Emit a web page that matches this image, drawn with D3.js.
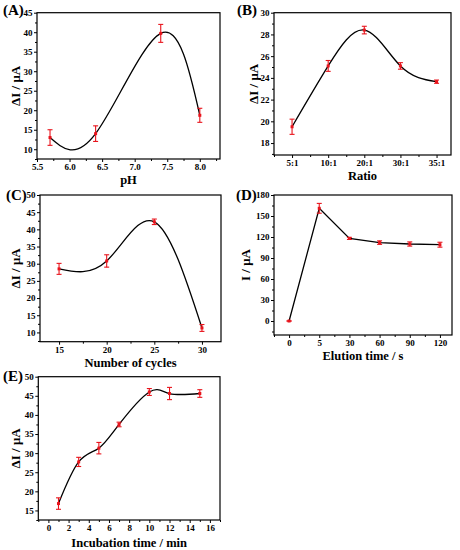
<!DOCTYPE html>
<html>
<head>
<meta charset="utf-8">
<script src="https://cdn.jsdelivr.net/npm/d3@7/dist/d3.min.js"></script>
<style>
  body { margin: 0; background: #fff; }
  svg { display: block; font-family: "Liberation Serif", "Times New Roman", serif; font-weight: bold; }
</style>
</head>
<body>
<div id="chart-area"></div>
<script>
//======================DATA======================
// (A) pH
var phX = [5.7, 6.4, 7.4, 8.0];
var phY = [13.0, 14.0, 39.7, 18.7];
var phErr = [2.0, 2.0, 2.3, 1.8];
var phTicks = [5.5, 6.0, 6.5, 7.0, 7.5, 8.0];
var phYTicks = [10, 15, 20, 25, 30, 35, 40, 45];

// (B) ratio
var ratioCats = ["5:1", "10:1", "20:1", "30:1", "35:1"];
var ratioY = [19.5, 25.1, 28.4, 25.1, 23.65];
var ratioErr = [0.7, 0.5, 0.35, 0.3, 0.15];
var ratioYTicks = [18, 20, 22, 24, 26, 28, 30];

// (C) cycles
var cycX = [15, 20, 25, 30];
var cycY = [28.5, 30.8, 42.2, 11.3];
var cycErr = [1.6, 1.8, 0.8, 1.0];
var cycTicks = [15, 20, 25, 30];
var cycYTicks = [10, 15, 20, 25, 30, 35, 40, 45, 50];

// (D) elution time
var eluCats = ["0", "5", "30", "60", "90", "120"];
var eluY = [0, 161, 118, 112, 110, 109];
var eluErr = [0, 7, 1.5, 2.5, 3, 3.5];
var eluYTicks = [0, 30, 60, 90, 120, 150, 180];

// (E) incubation time
var incX = [1, 3, 5, 7, 10, 12, 15];
var incY = [16.8, 27.7, 31.3, 37.5, 46.0, 45.6, 45.6];
var incErr = [1.5, 1.2, 1.5, 0.6, 0.9, 1.6, 1.0];
var incTicks = [0, 2, 4, 6, 8, 10, 12, 14, 16];
var incYTicks = [15, 20, 25, 30, 35, 40, 45, 50];

//======================SVG======================
var svg = d3.select("#chart-area").append("svg")
    .attr("width", 460)
    .attr("height", 550);

// midpoints between major ticks (plus one beyond each end if inside the domain)
function minors(ticks, domain) {
    var step = ticks[1] - ticks[0], out = [];
    for (var i = -1; i < ticks.length; i++) {
        var v = ticks[0] + (i + 0.5) * step;
        if (v >= d3.min(domain) && v <= d3.max(domain)) out.push(v);
    }
    return out;
}

// draws one panel
function panel(o) {
    var x = d3.scaleLinear().domain(o.xDomain).range([o.left, o.right]);
    var y = d3.scaleLinear().domain(o.yDomain).range([o.bottom, o.top]);
    var g = svg.append("g");

    // minor ticks
    g.append("g").attr("transform", "translate(0," + o.bottom + ")")
        .call(d3.axisBottom(x).tickValues(minors(o.xTicks, o.xDomain)).tickSize(2).tickFormat(""));
    g.append("g").attr("transform", "translate(" + o.left + ",0)")
        .call(d3.axisLeft(y).tickValues(minors(o.yTicks, o.yDomain)).tickSize(2).tickFormat(""));

    // x axis
    var xa = d3.axisBottom(x).tickValues(o.xTicks).tickSize(3).tickPadding(1.5)
        .tickFormat(o.xFormat);
    g.append("g").attr("transform", "translate(0," + o.bottom + ")").call(xa);
    // y axis
    var ya = d3.axisLeft(y).tickValues(o.yTicks).tickSize(3).tickPadding(1.5)
        .tickFormat(o.yFormat || d3.format("d"));
    g.append("g").attr("transform", "translate(" + o.left + ",0)").call(ya);

    g.selectAll(".domain").remove();
    g.selectAll(".tick line").attr("stroke", "#000").attr("stroke-width", 1);
    g.selectAll(".tick text").attr("font-size", "9px").attr("font-weight", "bold")
        .attr("font-family", "Liberation Serif, serif").attr("fill", "#000");

    // frame
    g.append("rect")
        .attr("x", o.left).attr("y", o.top)
        .attr("width", o.right - o.left).attr("height", o.bottom - o.top)
        .attr("fill", "none").attr("stroke", "#000").attr("stroke-width", 1.2);

    var pts = o.xs.map(function(d, i) { return { x: d, y: o.ys[i], e: o.errs[i] }; });

    // line
    g.append("path")
        .datum(pts)
        .attr("fill", "none")
        .attr("stroke", "#000")
        .attr("stroke-width", 1.3)
        .attr("d", d3.line()
            .x(function(d) { return x(d.x); })
            .y(function(d) { return y(d.y); })
            .curve(o.curve));

    // error bars
    var eb = g.selectAll(".eb").data(pts).enter().append("g").attr("stroke", "#e8141c").attr("stroke-width", 1.1);
    eb.append("line")
        .attr("x1", function(d) { return x(d.x); }).attr("x2", function(d) { return x(d.x); })
        .attr("y1", function(d) { return y(d.y - d.e); }).attr("y2", function(d) { return y(d.y + d.e); });
    eb.append("line")
        .attr("x1", function(d) { return x(d.x) - 2.5; }).attr("x2", function(d) { return x(d.x) + 2.5; })
        .attr("y1", function(d) { return y(d.y + d.e); }).attr("y2", function(d) { return y(d.y + d.e); });
    eb.append("line")
        .attr("x1", function(d) { return x(d.x) - 2.5; }).attr("x2", function(d) { return x(d.x) + 2.5; })
        .attr("y1", function(d) { return y(d.y - d.e); }).attr("y2", function(d) { return y(d.y - d.e); });
    // points
    g.selectAll(".pt").data(pts).enter().append("rect")
        .attr("x", function(d) { return x(d.x) - 1.5; })
        .attr("y", function(d) { return y(d.y) - 1.5; })
        .attr("width", 3).attr("height", 3)
        .attr("fill", "#e8141c");

    // axis titles
    g.append("text")
        .attr("x", (o.left + o.right) / 2)
        .attr("y", o.xTitleY)
        .attr("text-anchor", "middle")
        .attr("font-size", "12.5px")
        .text(o.xTitle);
    g.append("text")
        .attr("transform", "translate(" + o.yTitleX + "," + (o.top + o.bottom) / 2 + ") rotate(-90)")
        .attr("text-anchor", "middle")
        .attr("dy", "0.35em")
        .attr("font-size", "13px")
        .text(o.yTitle);

    // panel label
    g.append("text")
        .attr("x", o.labelX).attr("y", o.labelY)
        .attr("font-size", "15px")
        .text(o.label);
}

panel({
    left: 37, right: 220, top: 12.7, bottom: 159,
    xDomain: [5.5, 8.31], yDomain: [7.5, 45],
    xTicks: phTicks, yTicks: phYTicks, xFormat: d3.format(".1f"),
    xs: phX, ys: phY, errs: phErr, curve: d3.curveNatural,
    xTitle: "pH", xTitleY: 184, yTitle: "ΔI / μA", yTitleX: 15,
    label: "(A)", labelX: 3, labelY: 15
});

panel({
    left: 274, right: 451, top: 12.7, bottom: 155,
    xDomain: [0.5, 5.4], yDomain: [16.9, 30],
    xTicks: [1, 2, 3, 4, 5], yTicks: ratioYTicks,
    xFormat: function(d) { return ratioCats[d - 1]; },
    xs: [1, 2, 3, 4, 5], ys: ratioY, errs: ratioErr, curve: d3.curveNatural,
    xTitle: "Ratio", xTitleY: 180, yTitle: "ΔI / μA", yTitleX: 253,
    label: "(B)", labelX: 237, labelY: 15
});

panel({
    left: 40, right: 221, top: 195, bottom: 341.7,
    xDomain: [13, 32], yDomain: [7.3, 50],
    xTicks: cycTicks, yTicks: cycYTicks, xFormat: d3.format("d"),
    xs: cycX, ys: cycY, errs: cycErr, curve: d3.curveNatural,
    xTitle: "Number of cycles", xTitleY: 367, yTitle: "ΔI / μA", yTitleX: 15,
    label: "(C)", labelX: 6, labelY: 200
});

panel({
    left: 274, right: 452, top: 195, bottom: 335,
    xDomain: [0.5, 6.4], yDomain: [-20, 180],
    xTicks: [1, 2, 3, 4, 5, 6], yTicks: eluYTicks,
    xFormat: function(d) { return eluCats[d - 1]; },
    xs: [1, 2, 3, 4, 5, 6], ys: eluY, errs: eluErr, curve: d3.curveLinear,
    xTitle: "Elution time / s", xTitleY: 360, yTitle: "I / μA", yTitleX: 245,
    label: "(D)", labelX: 236, labelY: 200
});

panel({
    left: 38.3, right: 220, top: 376.7, bottom: 520,
    xDomain: [-1, 17], yDomain: [12.5, 50],
    xTicks: incTicks, yTicks: incYTicks, xFormat: d3.format("d"),
    xs: incX, ys: incY, errs: incErr, curve: d3.curveNatural,
    xTitle: "Incubation time / min", xTitleY: 547, yTitle: "ΔI / μA", yTitleX: 15,
    label: "(E)", labelX: 3, labelY: 381
});
</script>
</body>
</html>
